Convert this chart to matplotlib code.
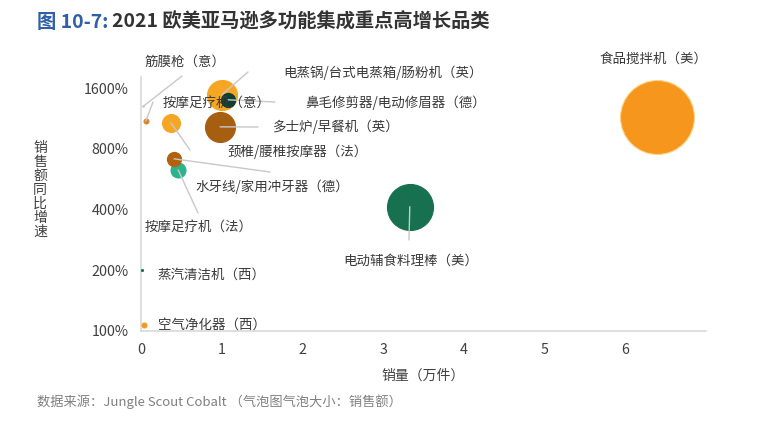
import matplotlib
matplotlib.use('Agg')
import matplotlib.pyplot as plt
from matplotlib.ticker import NullLocator

plt.rcParams['font.family'] = ['Noto Sans CJK SC', 'DejaVu Sans']

# data
products = ['食品搅拌机（美）', '电动辅食料理棒（美）', '电蒸锅/台式电蒸箱/肠粉机（英）',
            '多士炉/早餐机（英）', '颈椎/腰椎按摩器（法）', '按摩足疗机（法）',
            '水牙线/家用冲牙器（德）', '鼻毛修剪器/电动修眉器（德）', '按摩足疗机（意）',
            '筋膜枪（意）', '蒸汽清洁机（西）', '空气净化器（西）']
sales_volume = [6.39, 3.33, 1.00, 0.98, 0.37, 0.46, 0.41, 1.08, 0.06, 0.03, 0.01, 0.04]  # 万件
growth = [1152, 413, 1480, 1027, 1076, 629, 713, 1398, 1100, 1300, 201, 107]  # %
sales = [1370, 530, 225, 225, 80, 56, 50, 50, 6, 0.5, 1, 6]  # bubble size
y_ticks = [100, 200, 400, 800, 1600]
x_ticks = [0, 1, 2, 3, 4, 5, 6]

colors = ['#F7961C', '#17704F', '#F5A623', '#A65E10', '#F6A623', '#2BB38C',
          '#B2620E', '#0E3F33', '#D9822B', '#C8C8C8', '#17704F', '#F39A1E']

# label anchor (left, v-center) and leader line end, in figure pixels from top-left
label_pos = [(600, 59), (343, 261), (283, 73), (273, 127), (228, 152), (145, 227),
             (195, 187), (305, 103), (163, 103), (145, 62), (157, 275), (158, 325)]
leader_end = [None, (409, 240), (248, 72), (258, 127), (190, 150), (198, 213),
              (270, 172), (275, 102), (153, 102), (182, 76), None, None]

W, H = 766, 432
fig = plt.figure(figsize=(W / 100, H / 100), dpi=100)
ax = fig.add_axes([141 / W, 1 - 331 / H, (706 - 141) / W, (331 - 77) / H])

ax.set_yscale('log', base=2)
ax.set_xlim(0, 7.0)
ax.set_ylim(100, 1814)
ax.set_yticks(y_ticks)
ax.set_yticklabels([f'{v}%' for v in y_ticks])
ax.yaxis.set_minor_locator(NullLocator())
ax.set_xticks(x_ticks)
ax.set_xticklabels([str(v) for v in x_ticks])
ax.tick_params(length=0, labelsize=10.3, labelcolor='#404040')
ax.tick_params(axis='y', pad=9)
ax.tick_params(axis='x', pad=9)
for side in ['top', 'right']:
    ax.spines[side].set_visible(False)
for side in ['left', 'bottom']:
    ax.spines[side].set_color('#D9D9D9')
    ax.spines[side].set_linewidth(1.2)

# bubbles, biggest first so the small ones sit on top
order = sorted(range(len(products)), key=lambda i: -sales[i])
for i in order:
    edge = '#FFD38A' if i == 0 else colors[i]
    ax.scatter(sales_volume[i], growth[i], s=sales[i] * 2.07, color=colors[i],
               edgecolors=edge, linewidths=0.8, zorder=3, clip_on=False)

for i, name in enumerate(products):
    if leader_end[i] is not None:
        ex, ey = leader_end[i]
        ax.annotate('', xy=(sales_volume[i], growth[i]), xycoords='data',
                    xytext=(ex, H - ey), textcoords='figure pixels',
                    arrowprops=dict(arrowstyle='-', color='#C8C8C8', lw=1,
                                    shrinkA=0, shrinkB=0), zorder=4)
    lx, ly = label_pos[i]
    fig.text(lx / W, 1 - ly / H, name, ha='left', va='center', fontsize=9.7,
             color='#3A3A3A', zorder=5)

ax.set_xlabel('销量（万件）', fontsize=10, color='#404040', labelpad=8)
fig.text(40 / W, 1 - 190 / H, '\n'.join('销售额同比增速'), ha='center', va='center',
         fontsize=10, color='#404040', linespacing=1.0)

# title in two colours
t1 = fig.text(37 / W, 1 - 22 / H, '图 10-7:', fontsize=13.9, fontweight='bold',
              color='#2E5FA8', ha='left', va='center')
fig.canvas.draw()
bb = t1.get_window_extent()
fig.text((bb.x1 + 4) / W, 1 - 22 / H, '2021 欧美亚马逊多功能集成重点高增长品类',
         fontsize=13.9, fontweight='bold', color='#333333', ha='left', va='center')

fig.text(37 / W, 1 - 402 / H, '数据来源：Jungle Scout Cobalt （气泡图气泡大小：销售额）',
         fontsize=9.5, color='#808080', ha='left', va='center')

fig.savefig('out.png', dpi=100)
